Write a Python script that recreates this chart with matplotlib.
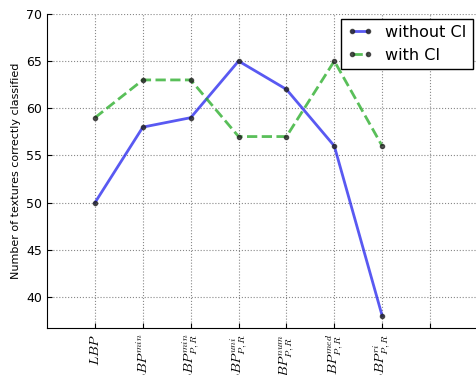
import matplotlib
matplotlib.use("Agg")
import matplotlib.pyplot as plt

plt.rcParams["mathtext.fontset"] = "cm"

methods = [r"$LBP$", r"$LBP^{min}$", r"$LBP_{P,R}^{min}$", r"$LBP_{P,R}^{uni}$",
           r"$LBP_{P,R}^{num}$", r"$LBP_{P,R}^{med}$", r"$LBP_{P,R}^{ri}$"]
without_ci = [50, 58, 59, 65, 62, 56, 38]
with_ci = [59, 63, 63, 57, 57, 65, 56]


def main():
    fig = plt.figure(figsize=(4.76, 3.75), dpi=100)
    ax = fig.add_axes([0.099, 0.125, 0.905, 0.838])

    x = list(range(len(methods)))
    ax.plot(x, without_ci, "-", color="#2222ee", alpha=0.75, lw=2,
            marker="o", ms=3, mfc="#222222", mec="#222222", label="without CI")
    ax.plot(x, with_ci, "--", color="#22aa22", alpha=0.75, lw=2,
            marker="o", ms=3, mfc="#222222", mec="#222222", label="with CI")

    ax.set_xlim(-1, 8)
    ax.set_ylim(36.7, 70)
    ax.set_xticks(range(8))
    ax.set_xticklabels(methods + [""], rotation=90, fontsize=10)
    ax.set_yticks(range(40, 71, 5))
    ax.tick_params(axis="y", labelsize=9, direction="in")
    ax.tick_params(axis="x", direction="in", pad=4)
    ax.set_ylabel("Number of textures correctly classified", fontsize=8)
    ax.grid(True, linestyle=":", color="#888888", lw=0.8)
    ax.spines["top"].set_visible(False)
    ax.spines["right"].set_visible(False)

    leg = ax.legend(loc="upper right", fontsize=11.5, fancybox=False,
                    framealpha=1, edgecolor="black", borderaxespad=0.3,
                    handlelength=1.6, numpoints=2)
    leg.get_frame().set_linewidth(1)

    fig.savefig("out.png", dpi=100)


if __name__ == "__main__":
    main()
